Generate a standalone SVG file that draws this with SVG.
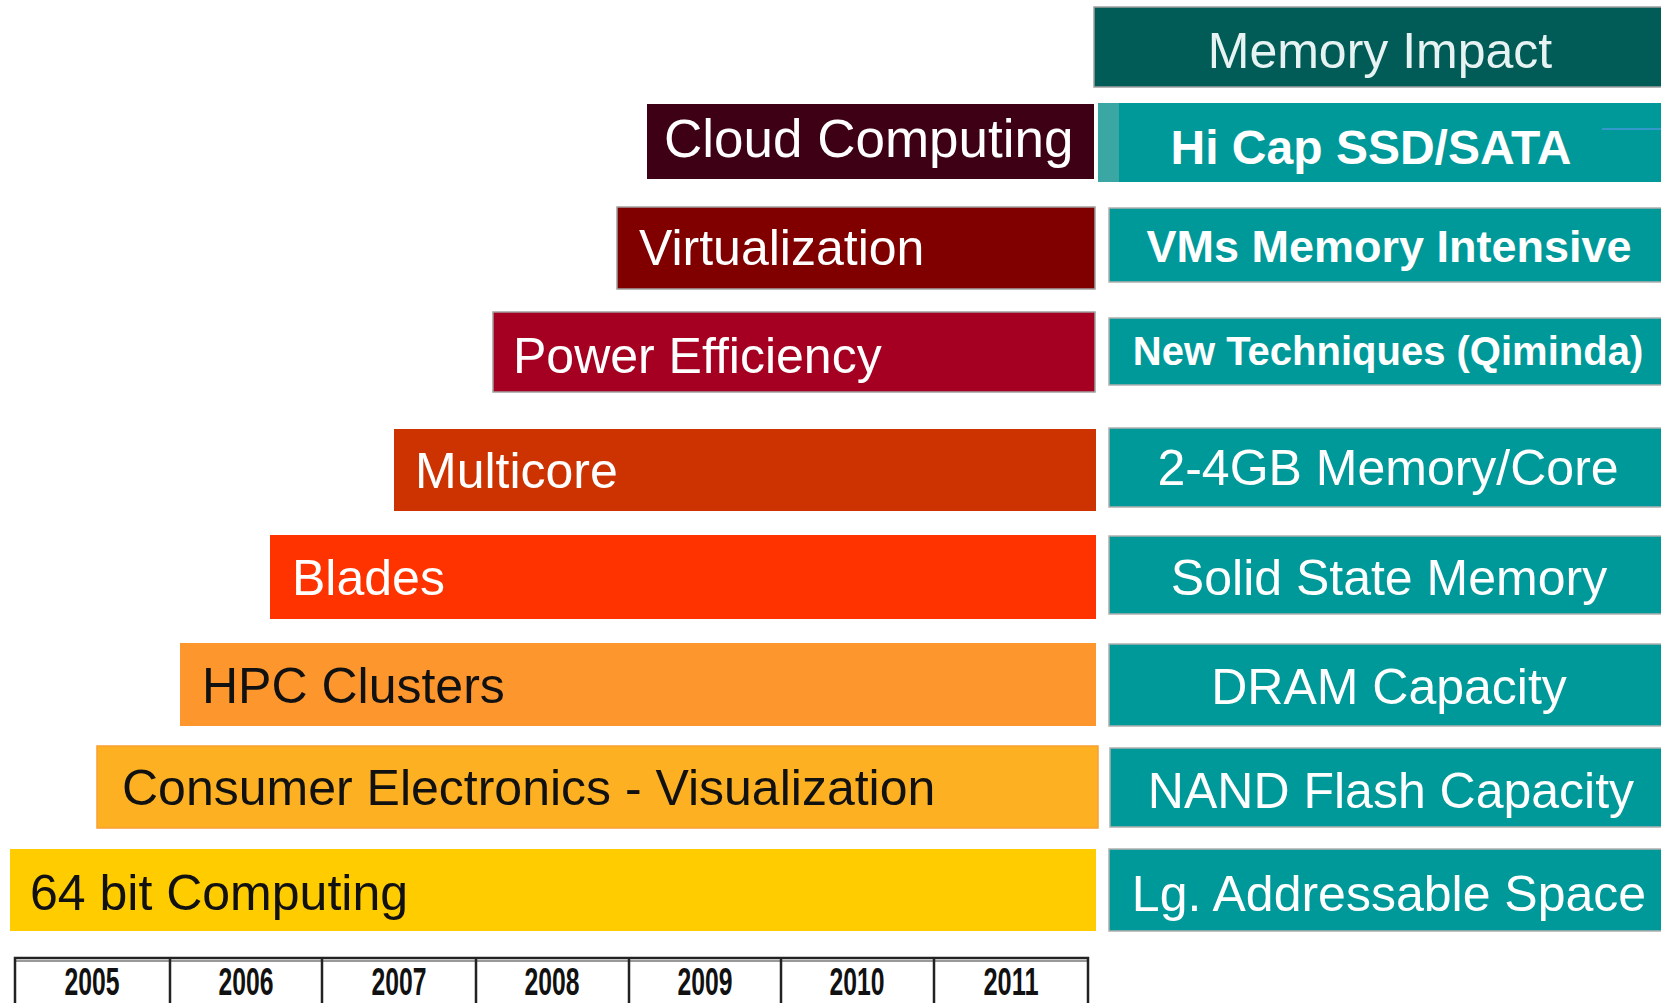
<svg xmlns="http://www.w3.org/2000/svg" width="1661" height="1003" viewBox="0 0 1661 1003">
<style>
.lbl{font-family:"Liberation Sans",Arial,sans-serif;font-size:50px}
.w{fill:#ffffff}
.k{fill:#111111}
.r{font-family:"Liberation Sans",Arial,sans-serif;font-size:50px;fill:#ffffff;text-anchor:middle}
.b{font-weight:bold}
.teal{fill:#009999;stroke:#b0b0b0;stroke-width:1.5}
.gb{stroke:#a0a0a0;stroke-width:1.5}
.yr{font-family:"Liberation Sans",Arial,sans-serif;font-size:39px;font-weight:bold;fill:#111;text-anchor:middle}
.tl{stroke:#222;stroke-width:2.5;fill:none}
</style>
<rect width="1661" height="1003" fill="#ffffff"/>

<g id="memory-impact">
<rect x="1094" y="7" width="570" height="80" fill="#015c58" stroke="#a0a0a0" stroke-width="1.5"/>
<text class="r" x="1380" y="68" fill="#e6f3f2" style="fill:#e6f3f2">Memory Impact</text>
</g>

<g id="cloud-computing">
<rect x="647" y="104" width="447" height="75" fill="#3d0015"/>
<text class="lbl w" x="664" y="157" style="font-size:53px">Cloud Computing</text>
</g>
<g id="hi-cap">
<rect x="1098" y="103" width="566" height="79" fill="#009999"/>
<rect x="1098" y="103" width="21" height="79" fill="#3aa7a4"/>
<line x1="1602" y1="129" x2="1661" y2="129" stroke="#3399cc" stroke-width="2"/>
<text class="r b" x="1371" y="164" style="font-size:48px">Hi Cap SSD/SATA</text>
</g>

<g id="virtualization">
<rect x="617" y="207" width="478" height="82" fill="#800000" class="gb"/>
<text class="lbl w" x="639" y="265">Virtualization</text>
</g>
<g id="vms">
<rect x="1109" y="208" width="555" height="74" class="teal"/>
<text class="r b" x="1389" y="262" style="font-size:45px">VMs Memory Intensive</text>
</g>

<g id="power-efficiency">
<rect x="493" y="312" width="602" height="80" fill="#a50021" class="gb"/>
<text class="lbl w" x="513" y="373">Power Efficiency</text>
</g>
<g id="new-techniques">
<rect x="1109" y="318" width="555" height="67" class="teal"/>
<text class="r b" x="1388" y="365" style="font-size:40px">New Techniques (Qiminda)</text>
</g>

<g id="multicore">
<rect x="394" y="429" width="702" height="82" fill="#cc3300"/>
<text class="lbl w" x="415" y="488">Multicore</text>
</g>
<g id="gb-core">
<rect x="1109" y="428" width="555" height="79" class="teal"/>
<text class="r" x="1388" y="485">2-4GB Memory/Core</text>
</g>

<g id="blades">
<rect x="270" y="535" width="826" height="84" fill="#ff3300"/>
<text class="lbl w" x="292" y="595">Blades</text>
</g>
<g id="solid-state">
<rect x="1109" y="536" width="555" height="78" class="teal"/>
<text class="r" x="1389" y="595">Solid State Memory</text>
</g>

<g id="hpc">
<rect x="180" y="643" width="916" height="83" fill="#fd962d"/>
<text class="lbl k" x="202" y="703">HPC Clusters</text>
</g>
<g id="dram">
<rect x="1109" y="644" width="555" height="82" class="teal"/>
<text class="r" x="1389" y="704">DRAM Capacity</text>
</g>

<g id="consumer">
<rect x="97" y="746" width="1001" height="82" fill="#fdb122" stroke="#f7a030" stroke-width="1.5"/>
<text class="lbl k" x="122" y="805">Consumer Electronics - Visualization</text>
</g>
<g id="nand">
<rect x="1110" y="748" width="554" height="79" class="teal"/>
<text class="r" x="1391" y="808">NAND Flash Capacity</text>
</g>

<g id="bit64">
<rect x="10" y="849" width="1086" height="82" fill="#ffcc00"/>
<text class="lbl k" x="30" y="910">64 bit Computing</text>
</g>
<g id="addressable">
<rect x="1109" y="849" width="555" height="82" class="teal"/>
<text class="r" x="1389" y="911">Lg. Addressable Space</text>
</g>

<g id="timeline">
<line x1="15" y1="961" x2="1088" y2="961" stroke="#999" stroke-width="2"/>
<path class="tl" d="M15 1003 V958 H1088 V1003 M170 958 V1003 M322 958 V1003 M476 958 V1003 M629 958 V1003 M781 958 V1003 M934 958 V1003"/>
<text class="yr" x="92" y="995" textLength="55" lengthAdjust="spacingAndGlyphs">2005</text>
<text class="yr" x="246" y="995" textLength="55" lengthAdjust="spacingAndGlyphs">2006</text>
<text class="yr" x="399" y="995" textLength="55" lengthAdjust="spacingAndGlyphs">2007</text>
<text class="yr" x="552" y="995" textLength="55" lengthAdjust="spacingAndGlyphs">2008</text>
<text class="yr" x="705" y="995" textLength="55" lengthAdjust="spacingAndGlyphs">2009</text>
<text class="yr" x="857" y="995" textLength="55" lengthAdjust="spacingAndGlyphs">2010</text>
<text class="yr" x="1011" y="995" textLength="55" lengthAdjust="spacingAndGlyphs">2011</text>
</g>
</svg>
